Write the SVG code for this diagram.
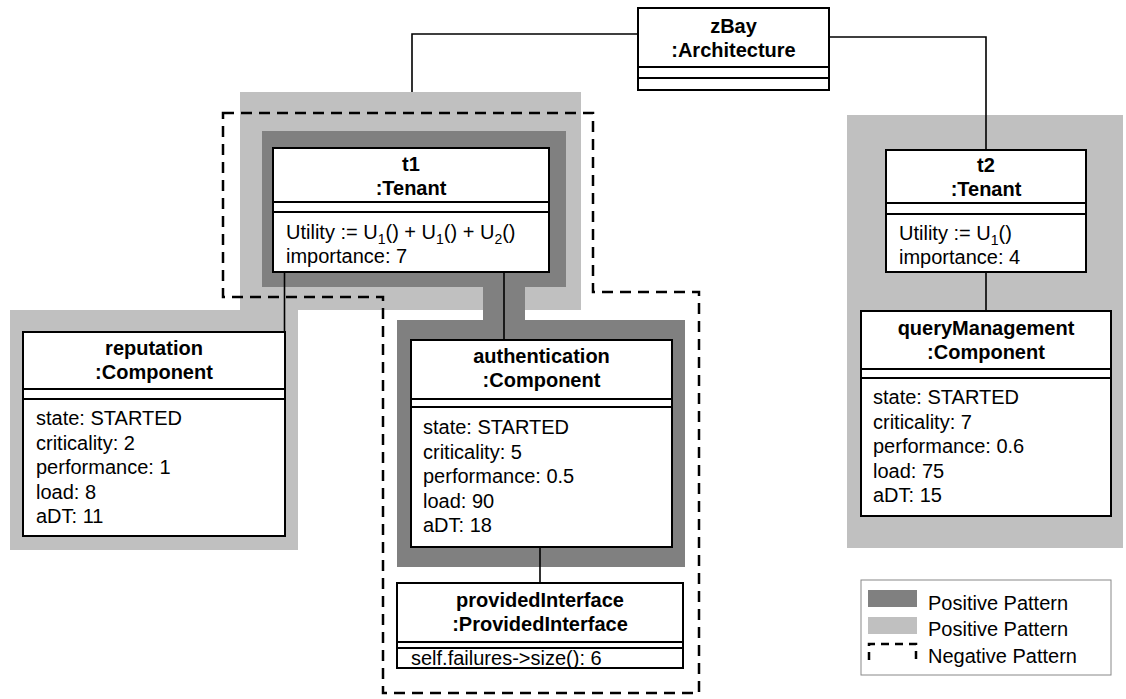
<svg xmlns="http://www.w3.org/2000/svg" width="1126" height="699" viewBox="0 0 1126 699">
  <style>
    text { font-family: "Liberation Sans", Arial, Helvetica, sans-serif; font-size: 20px; fill: #000; }
    .title { font-weight: bold; text-anchor: middle; }
    .box { fill: #fff; stroke: #000; stroke-width: 2; }
    .sep { stroke: #000; stroke-width: 2; }
    .link { fill: none; stroke: #000; stroke-width: 1.6; }
    .light { fill: #c0c0c0; }
    .dark { fill: #808080; }
    .neg { fill: none; stroke: #000; stroke-width: 2.5; stroke-dasharray: 11 7; }
  </style>

  <!-- pattern highlights -->
  <g id="highlights">
    <rect class="light" x="240" y="92" width="341" height="218"/>
    <rect class="light" x="10" y="310" width="288" height="240"/>
    <rect class="light" x="847" y="115" width="276" height="433"/>
    <rect class="dark" x="262" y="131" width="304" height="156"/>
    <rect class="dark" x="483" y="286" width="42" height="36"/>
    <rect class="dark" x="397" y="320" width="288" height="247"/>
    <path class="neg" d="M223,113 H593 V292 H699 V693 H383 V297 H223 Z"/>
  </g>

  <!-- connectors -->
  <g id="connectors">
    <polyline class="link" points="638,34 412,34 412,92"/>
    <polyline class="link" points="829,37 986,37 986,150"/>
    <line class="link" x1="284.5" y1="272" x2="284.5" y2="332"/>
    <line class="link" x1="504" y1="272" x2="504" y2="340"/>
    <line class="link" x1="540" y1="547" x2="540" y2="583"/>
    <line class="link" x1="986" y1="272" x2="986" y2="311"/>
  </g>

  <g id="zBay">
    <rect class="box" x="638" y="8" width="191" height="82"/>
    <text class="title" x="733.5" y="33">zBay</text>
    <text class="title" x="733.5" y="57">:Architecture</text>
    <line class="sep" x1="638" y1="67" x2="829" y2="67"/>
    <line class="sep" x1="638" y1="78" x2="829" y2="78"/>
  </g>

  <g id="t1">
    <rect class="box" x="273" y="148" width="276" height="124"/>
    <text class="title" x="411" y="171">t1</text>
    <text class="title" x="411" y="195">:Tenant</text>
    <line class="sep" x1="273" y1="202" x2="549" y2="202"/>
    <line class="sep" x1="273" y1="212" x2="549" y2="212"/>
    <text x="286" y="239">Utility := U<tspan dy="5" font-size="14">1</tspan><tspan dy="-5">() + U</tspan><tspan dy="5" font-size="14">1</tspan><tspan dy="-5">() + U</tspan><tspan dy="5" font-size="14">2</tspan><tspan dy="-5">()</tspan></text>
    <text x="286" y="263">importance: 7</text>
  </g>

  <g id="t2">
    <rect class="box" x="886" y="150" width="200" height="122"/>
    <text class="title" x="986" y="172">t2</text>
    <text class="title" x="986" y="196">:Tenant</text>
    <line class="sep" x1="886" y1="203" x2="1086" y2="203"/>
    <line class="sep" x1="886" y1="214" x2="1086" y2="214"/>
    <text x="899" y="240">Utility := U<tspan dy="5" font-size="14">1</tspan><tspan dy="-5">()</tspan></text>
    <text x="899" y="264">importance: 4</text>
  </g>

  <g id="reputation">
    <rect class="box" x="23" y="332" width="262" height="204"/>
    <text class="title" x="154" y="355">reputation</text>
    <text class="title" x="154" y="379">:Component</text>
    <line class="sep" x1="23" y1="389" x2="285" y2="389"/>
    <line class="sep" x1="23" y1="399" x2="285" y2="399"/>
    <text x="36" y="425">state: STARTED</text>
    <text x="36" y="449.5">criticality: 2</text>
    <text x="36" y="474">performance: 1</text>
    <text x="36" y="498.5">load: 8</text>
    <text x="36" y="523">aDT: 11</text>
  </g>

  <g id="authentication">
    <rect class="box" x="411" y="340" width="261" height="207"/>
    <text class="title" x="541.5" y="363">authentication</text>
    <text class="title" x="541.5" y="387">:Component</text>
    <line class="sep" x1="411" y1="399" x2="672" y2="399"/>
    <line class="sep" x1="411" y1="407" x2="672" y2="407"/>
    <text x="423" y="434">state: STARTED</text>
    <text x="423" y="458.5">criticality: 5</text>
    <text x="423" y="483">performance: 0.5</text>
    <text x="423" y="507.5">load: 90</text>
    <text x="423" y="532">aDT: 18</text>
  </g>

  <g id="providedInterface">
    <rect class="box" x="397" y="583" width="286" height="85"/>
    <text class="title" x="540" y="607">providedInterface</text>
    <text class="title" x="540" y="631">:ProvidedInterface</text>
    <line class="sep" x1="397" y1="642" x2="683" y2="642"/>
    <line class="sep" x1="397" y1="648" x2="683" y2="648"/>
    <text x="411" y="665">self.failures-&gt;size(): 6</text>
  </g>

  <g id="queryManagement">
    <rect class="box" x="861" y="311" width="250" height="205"/>
    <text class="title" x="986" y="335">queryManagement</text>
    <text class="title" x="986" y="359">:Component</text>
    <line class="sep" x1="861" y1="369" x2="1111" y2="369"/>
    <line class="sep" x1="861" y1="378" x2="1111" y2="378"/>
    <text x="873" y="404">state: STARTED</text>
    <text x="873" y="428.5">criticality: 7</text>
    <text x="873" y="453">performance: 0.6</text>
    <text x="873" y="477.5">load: 75</text>
    <text x="873" y="502">aDT: 15</text>
  </g>

  <g id="legend">
    <rect x="861" y="580" width="250" height="95" fill="#fff" stroke="#888" stroke-width="1"/>
    <rect class="dark" x="868" y="590" width="49" height="17"/>
    <text x="928" y="610">Positive Pattern</text>
    <rect class="light" x="868" y="617" width="49" height="17"/>
    <text x="928" y="636">Positive Pattern</text>
    <path d="M869,660 V644 H916 V660" fill="none" stroke="#000" stroke-width="2.5" stroke-dasharray="8 6"/>
    <text x="928" y="663">Negative Pattern</text>
  </g>
</svg>
